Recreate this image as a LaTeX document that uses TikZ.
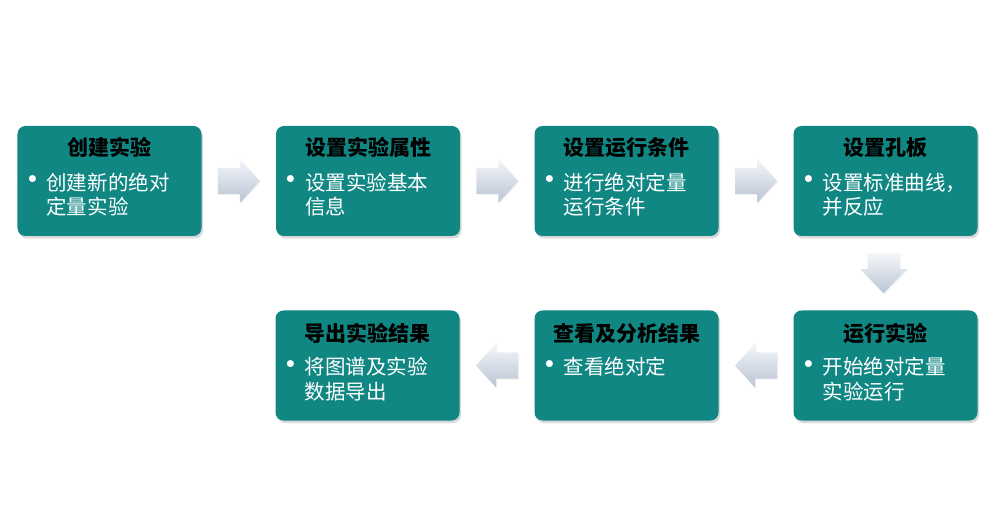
\documentclass[tikz,border=0pt]{standalone}
\usepackage{fontspec}
\setmainfont{Noto Sans CJK SC}
\usetikzlibrary{calc,shadows}

\definecolor{boxteal}{RGB}{16,135,131}
\definecolor{arrowlight}{RGB}{244,246,250}
\definecolor{arrowdark}{RGB}{186,196,212}

\newcommand{\itemdot}{\makebox[8bp][c]{\raisebox{-1.5bp}{\scalebox{1.6}{•}}}\hspace{10bp}}

\tikzset{
  stepbox/.style={fill=boxteal, rounded corners=8bp, minimum width=184bp, minimum height=110bp,
    inner sep=0pt, drop shadow={opacity=0.3, shadow xshift=1.5bp, shadow yshift=-2.5bp}},
  boxtitle/.style={font=\fontsize{21bp}{25bp}\selectfont\bfseries, text=black, inner sep=0pt},
  boxtext/.style={font=\fontsize{20.5bp}{24.5bp}\selectfont, text=white, align=left,
    anchor=north west, inner sep=0pt},
  blockarrow/.style={top color=arrowlight, bottom color=arrowdark,
    drop shadow={opacity=0.12, shadow xshift=1bp, shadow yshift=-1bp}}
}

\begin{document}
\begin{tikzpicture}[x=1bp, y=-1bp]
\useasboundingbox (0,0) rectangle (994,516);

%первый ряд
\node[stepbox] (create) at (109.5,181) {};
\node[boxtitle] at ($(create.north)+(0,22)$) {创建实验};
\node[boxtext] at ($(create.north west)+(11,47)$) {\itemdot 创建新的绝对\\\hspace*{18bp}定量实验};

\node[stepbox] (attrib) at (368,181) {};
\node[boxtitle] at ($(attrib.north)+(0,22)$) {设置实验属性};
\node[boxtext] at ($(attrib.north west)+(11,47)$) {\itemdot 设置实验基本\\\hspace*{18bp}信息};

\node[stepbox] (cond) at (626.5,181) {};
\node[boxtitle] at ($(cond.north)+(0,22)$) {设置运行条件};
\node[boxtext] at ($(cond.north west)+(11,47)$) {\itemdot 进行绝对定量\\\hspace*{18bp}运行条件};

\node[stepbox] (plate) at (885.5,181) {};
\node[boxtitle] at ($(plate.north)+(0,22)$) {设置孔板};
\node[boxtext] at ($(plate.north west)+(11,47)$) {\itemdot 设置标准曲线，\\\hspace*{18bp}并反应};

%второй ряд
\node[stepbox] (run) at (885.5,365.5) {};
\node[boxtitle] at ($(run.north)+(0,23)$) {运行实验};
\node[boxtext] at ($(run.north west)+(11,47)$) {\itemdot 开始绝对定量\\\hspace*{18bp}实验运行};

\node[stepbox] (analyse) at (626.5,365.5) {};
\node[boxtitle] at ($(analyse.north)+(0,23)$) {查看及分析结果};
\node[boxtext] at ($(analyse.north west)+(11,47)$) {\itemdot 查看绝对定};

\node[stepbox] (export) at (367.5,365.5) {};
\node[boxtitle] at ($(export.north)+(0,23)$) {导出实验结果};
\node[boxtext] at ($(export.north west)+(11,47)$) {\itemdot 将图谱及实验\\\hspace*{18bp}数据导出};

%стрелки вправо
\coordinate (m1) at ($(create.east)!0.5!(attrib.west)$);
\shade[blockarrow] (m1) ++(-21,-13) -- ++(22,0) -- ++(0,-9) -- ++(20,22) -- ++(-20,22) -- ++(0,-9) -- ++(-22,0) -- cycle;
\coordinate (m2) at ($(attrib.east)!0.5!(cond.west)$);
\shade[blockarrow] (m2) ++(-21,-13) -- ++(22,0) -- ++(0,-9) -- ++(20,22) -- ++(-20,22) -- ++(0,-9) -- ++(-22,0) -- cycle;
\coordinate (m3) at ($(cond.east)!0.5!(plate.west)$);
\shade[blockarrow] (m3) ++(-21,-13) -- ++(22,0) -- ++(0,-9) -- ++(20,22) -- ++(-20,22) -- ++(0,-9) -- ++(-22,0) -- cycle;

%стрелка вниз
\coordinate (m4) at ($(plate.south)!0.5!(run.north)+(-2,0)$);
\shade[blockarrow] (m4) ++(-16,-20) -- ++(32,0) -- ++(0,16) -- ++(7,0) -- ++(-23,24) -- ++(-23,-24) -- ++(7,0) -- cycle;

%стрелки влево
\coordinate (m5) at ($(run.west)!0.5!(analyse.east)$);
\shade[blockarrow] (m5) ++(21,-13) -- ++(-22,0) -- ++(0,-9) -- ++(-20,22) -- ++(20,22) -- ++(0,-9) -- ++(22,0) -- cycle;
\coordinate (m6) at ($(analyse.west)!0.5!(export.east)$);
\shade[blockarrow] (m6) ++(21,-13) -- ++(-22,0) -- ++(0,-9) -- ++(-20,22) -- ++(20,22) -- ++(0,-9) -- ++(22,0) -- cycle;

\end{tikzpicture}
\end{document}
